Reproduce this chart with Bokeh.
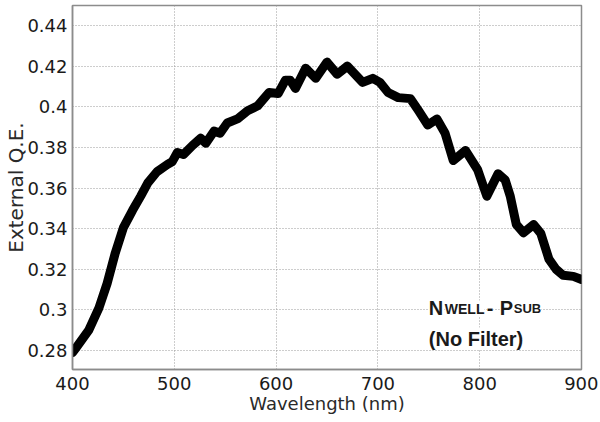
from bokeh.plotting import figure
from bokeh.models import Range1d, FixedTicker, Label
from bokeh.embed import file_html
from bokeh.resources import INLINE

wavelength = [400, 403, 416, 426, 434, 442, 450, 459, 467, 474, 483, 493, 498, 503,
              509, 518, 526, 531, 539, 545, 552, 562, 572, 582, 593, 602, 609, 614,
              619, 629, 639, 650, 660, 670, 685, 695, 702, 710, 720, 732, 740, 749,
              758, 766, 774, 786, 798, 807, 818, 825, 830, 836, 843, 853, 860, 868,
              875, 882, 892, 900]
qe = [0.279, 0.281, 0.290, 0.301, 0.313, 0.328, 0.3405, 0.349, 0.356, 0.3625, 0.368,
      0.3715, 0.373, 0.3775, 0.3765, 0.381, 0.3845, 0.382, 0.388, 0.387, 0.392, 0.394,
      0.398, 0.4005, 0.407, 0.4065, 0.413, 0.413, 0.409, 0.419, 0.414, 0.422, 0.416,
      0.420, 0.412, 0.414, 0.412, 0.407, 0.4045, 0.404, 0.398, 0.391, 0.394, 0.387,
      0.3735, 0.3785, 0.369, 0.356, 0.367, 0.364, 0.356, 0.342, 0.338, 0.342, 0.3377,
      0.325, 0.320, 0.317, 0.3165, 0.315]

x_ticks = [400, 500, 600, 700, 800, 900]
y_ticks = [0.28, 0.30, 0.32, 0.34, 0.36, 0.38, 0.40, 0.42, 0.44]
y_tick_labels = ["0.28", "0.3", "0.32", "0.34", "0.36", "0.38", "0.4", "0.42", "0.44"]

p = figure(frame_width=509, frame_height=364,
           x_range=Range1d(400, 900), y_range=Range1d(0.27065, 0.44985),
           output_backend="svg", toolbar_location=None,
           min_border_left=72, min_border_right=17, min_border_top=5, min_border_bottom=40)
p.background_fill_color = "white"
p.border_fill_color = "white"
p.outline_line_color = "#8c8c8c"
p.outline_line_width = 1.5

p.line(wavelength, qe, line_width=9, line_color="black",
       line_join="round", line_cap="round")

for ax in (p.xaxis[0], p.yaxis[0]):
    ax.major_tick_in = 0
    ax.major_tick_out = 0
    ax.minor_tick_in = 0
    ax.minor_tick_out = 0
    ax.axis_line_color = "#8c8c8c"
    ax.axis_line_width = 1.5
    ax.major_label_text_font = "DejaVu Sans"
    ax.major_label_text_font_size = "18px"
    ax.major_label_text_color = "#1a1a1a"
    ax.axis_label_text_font = "DejaVu Sans"
    ax.axis_label_text_font_style = "normal"
    ax.axis_label_text_color = "#2a2a2a"

p.xaxis.ticker = FixedTicker(ticks=x_ticks)
p.yaxis.ticker = FixedTicker(ticks=y_ticks)
p.yaxis.major_label_overrides = {t: s for t, s in zip(y_ticks, y_tick_labels)}
p.xaxis.major_label_standoff = 7
p.yaxis.major_label_standoff = 5
p.xaxis.axis_label = "Wavelength (nm)"
p.xaxis.axis_label_text_font_size = "18px"
p.xaxis.axis_label_standoff = 0
p.yaxis.axis_label = "External Q.E."
p.yaxis.axis_label_text_font_size = "20px"
p.yaxis.axis_label_standoff = -4

for g in (p.xgrid[0], p.ygrid[0]):
    g.grid_line_color = "#9a9a9a"
    g.grid_line_dash = "1 2"
    g.grid_line_width = 1
p.xgrid.ticker = FixedTicker(ticks=x_ticks)
p.ygrid.ticker = FixedTicker(ticks=y_ticks)

font = "Liberation Sans"
def lab(text, xo, yo, size, y=0.30117):
    p.add_layout(Label(x=750, y=y, x_offset=xo, y_offset=yo, text=text,
                       text_font=font, text_font_style="bold", text_font_size=size,
                       text_color="#1a1a1a", text_baseline="alphabetic",
                       background_fill_color="white"))

lab("N", 0, 0, "20px")
lab("WELL", 16, -1, "14px")
lab("-", 58, 0, "20px")
lab("P", 71, 0, "20px")
lab("SUB", 85, -1, "13px")
lab("(No Filter)", 0, 0, "20px", y=0.28591)

open("out.html", "w").write(file_html(p, INLINE))
